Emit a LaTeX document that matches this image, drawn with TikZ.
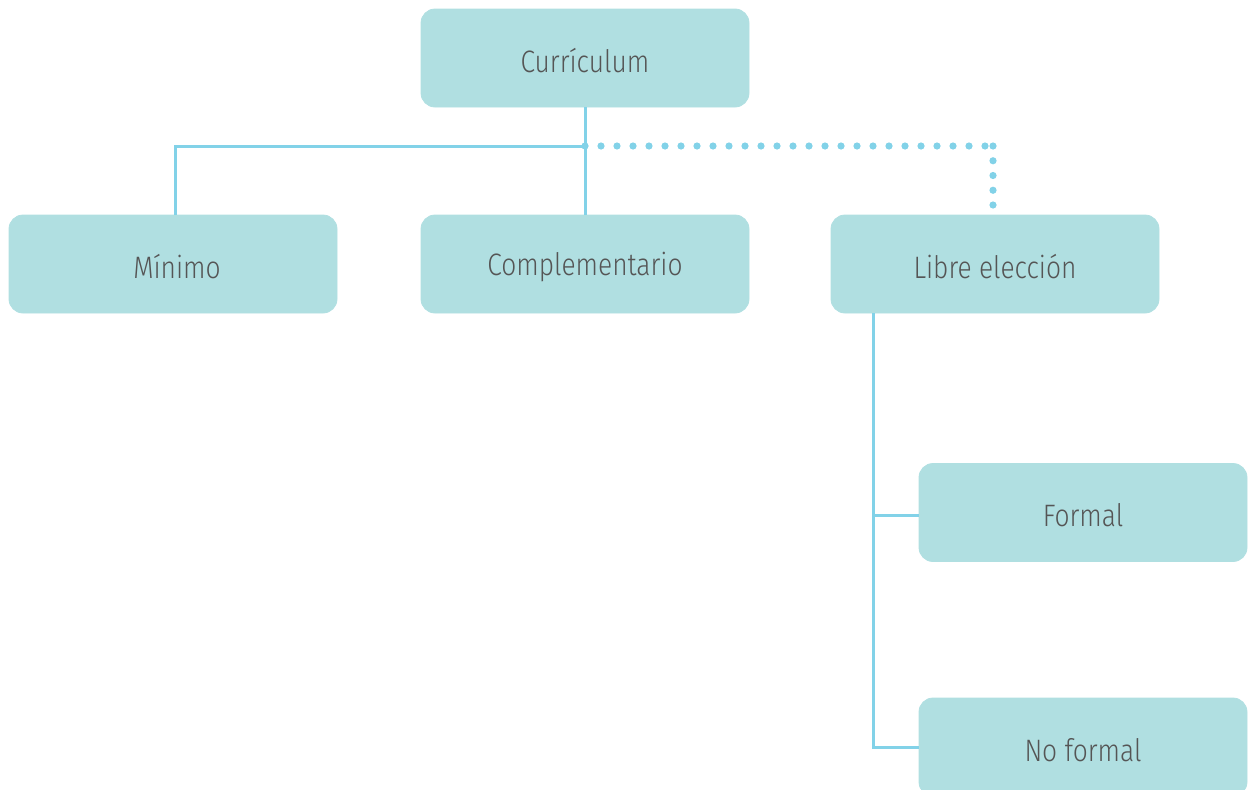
\documentclass[tikz,border=0pt]{standalone}
\usepackage{fontspec}
\setmainfont{Fira Sans}[UprightFont=* Light, FakeStretch=0.85]
\usetikzlibrary{calc}
\newcommand{\boxtxt}[1]{\raisebox{-3pt}[\height][\depth]{#1}}
\begin{document}
\begin{tikzpicture}[x=1pt,y=-1pt,
  box/.style={draw=boxfill,line width=0.8pt,fill=boxfill,rounded corners=14pt,minimum width=328pt,minimum height=98pt,inner sep=0pt,text=txt,font=\fontsize{31}{36}\selectfont},
  link/.style={draw=linec,line width=3pt},
  dotc/.style={fill=linec}]
\definecolor{boxfill}{HTML}{B0DFE1}
\definecolor{linec}{HTML}{82D2E8}
\definecolor{txt}{HTML}{555555}
\useasboundingbox (0,0) rectangle (1248,790);
\clip (0,0) rectangle (1248,790);
\node[box] (cur) at (585,58) {\boxtxt{Currículum}};
\node[box] (min) at (173,264) {\hspace*{8pt}\boxtxt{Mínimo}};
\node[box] (com) at (585,264) {\boxtxt{Complementario}};
\node[box] (lib) at (995,264) {\boxtxt{Libre elección}};
\node[box] (for) at (1083,512.5) {\boxtxt{Formal}};
\node[box] (nof) at (1083,747) {\boxtxt{No formal}};
\coordinate (j) at (585,146);
\coordinate (dA) at (985,146);
\coordinate (dB) at (993,146);
\coordinate (dC) at (993,205);
\draw[link] (cur.south) -- (com.north);
\draw[link] (j) -| ([xshift=2pt]min.north);
\foreach \i in {0,...,25} \fill[dotc] ($(j)!\i/25!(dA)$) circle (3.6pt);
\foreach \i in {0,...,4} \fill[dotc] ($(dB)!\i/4!(dC)$) circle (3.6pt);
\draw[link] ([xshift=-122pt]lib.south) |- (nof.west);
\draw[link] (873,515) -- (873,515 -| for.west);
\end{tikzpicture}
\end{document}
